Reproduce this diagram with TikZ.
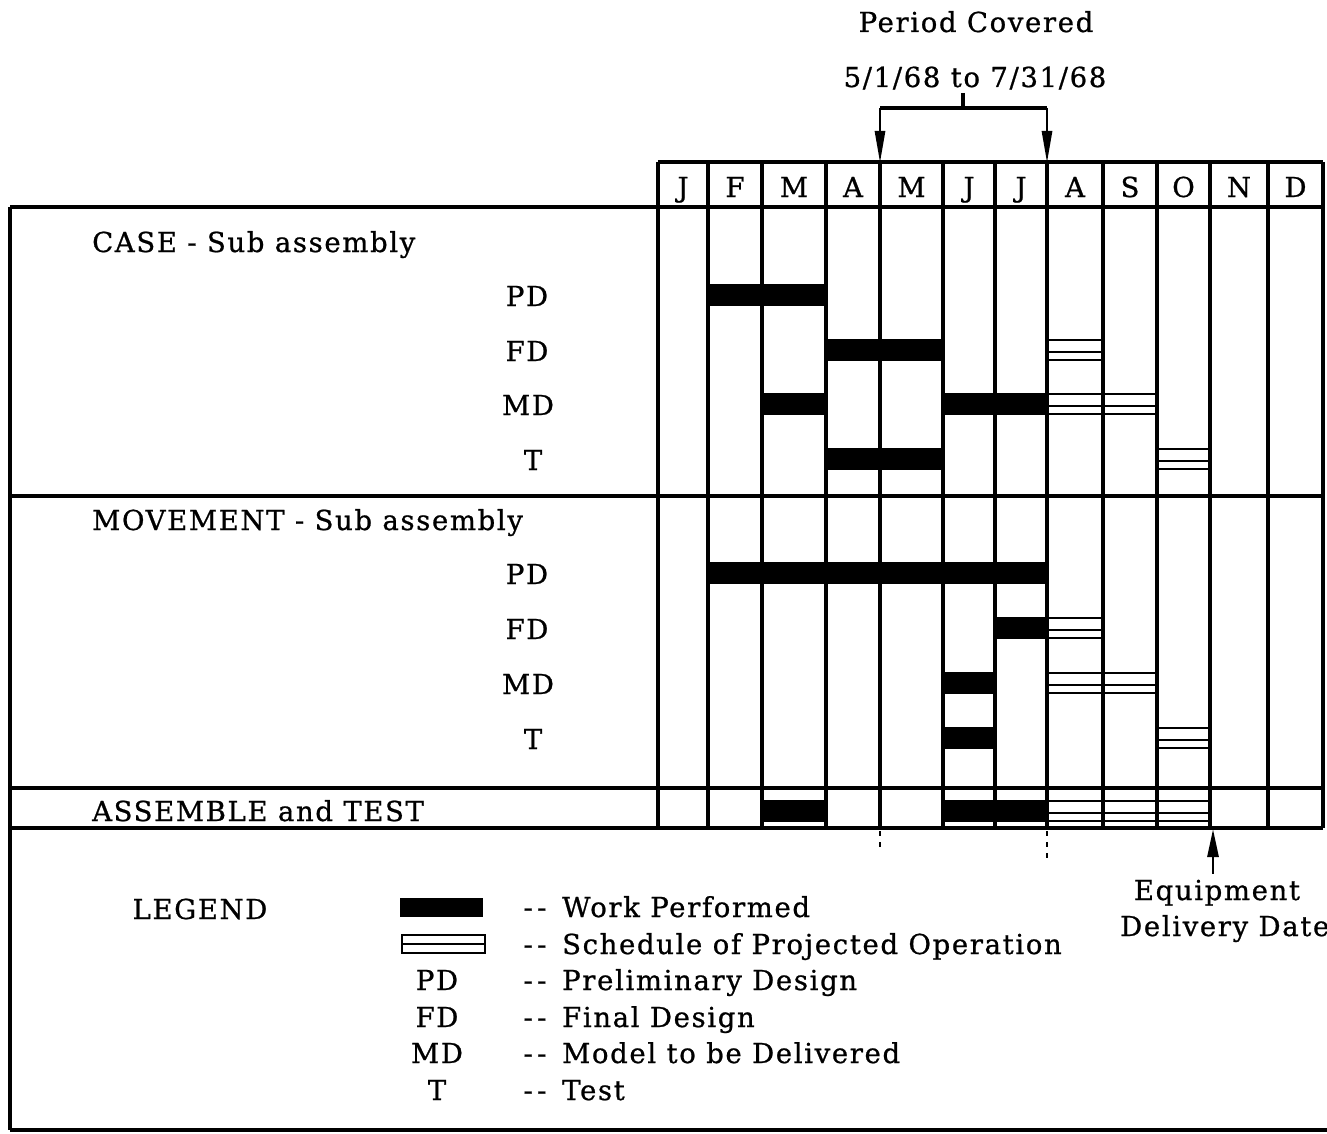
\documentclass[tikz,border=0pt]{standalone}
\usepackage{fontspec}
\setmainfont{DejaVu Serif}[LetterSpace=6,FakeBold=0.8]
\usetikzlibrary{arrows.meta}
\begin{document}
\begin{tikzpicture}[x=1pt,y=-1pt,
  gridline/.style={line width=3.1pt},
  txt/.style={font=\fontsize{27.5}{32}\selectfont, inner sep=0pt},
  workbar/.style={fill=black, draw=none},
  projline/.style={line width=2.6pt},
  periodarrow/.style={line width=2.8pt, -{Triangle[length=32pt,width=10pt]}},
  delivarrow/.style={line width=2.8pt, -{Triangle[length=28pt,width=11pt]}}]
\useasboundingbox (0,0) rectangle (1327,1134);
\fill[white] (0,0) rectangle (1327,1134);

% ---- grid ----
\draw[gridline] (658,162) -- (1323,162);
\draw[gridline] (10,207) -- (1323,207);
\draw[gridline] (10,496) -- (1323,496);
\draw[gridline] (10,788) -- (1323,788);
\draw[gridline] (10,828) -- (1323,828);
\draw[gridline] (10,1130) -- (1327,1130);
\draw[gridline] (10,207) -- (10,1130);
\foreach \x in {658,708,762,826,880,943,995,1047,1103,1157,1210,1268,1323}
  \draw[gridline] (\x,162) -- (\x,828);

% ---- month headers ----
\foreach \a/\b/\m/\n in {658/708/J/mJan,708/762/F/mFeb,762/826/M/mMar,826/880/A/mApr,
  880/943/M/mMay,943/995/J/mJun,995/1047/J/mJul,1047/1103/A/mAug,1103/1157/S/mSep,
  1157/1210/O/mOct,1210/1268/N/mNov,1268/1323/D/mDec}
  \node[txt, anchor=base] (\n) at ({(\a+\b)/2},197) {\m};

% ---- period covered ----
\node[txt, anchor=base] (pc) at (976,32) {Period Covered};
\node[txt, anchor=base] (pd) at (975,87) {5/1/68 to 7/31/68};
\coordinate (brTop) at (963,93);
\coordinate (brMid) at (963,108);
\coordinate (brL) at (880,108);
\coordinate (brR) at (1047,108);
\coordinate (hdL) at (880,163);
\coordinate (hdR) at (1047,163);
\draw[gridline] (brTop) -- (brMid);
\draw[gridline] (brL) -- (brR);
\draw[periodarrow] (brL) -- (hdL);
\draw[periodarrow] (brR) -- (hdR);

% ---- row labels ----
\node[txt, anchor=base west] (case) at (92,252) {CASE - Sub assembly};
\node[txt, anchor=base] (cPD) at (527,306) {PD};
\node[txt, anchor=base] (cFD) at (527,361) {FD};
\node[txt, anchor=base] (cMD) at (528,415) {MD};
\node[txt, anchor=base] (cT) at (533,470) {T};
\node[txt, anchor=base west] (mov) at (92,530) {MOVEMENT - Sub assembly};
\node[txt, anchor=base] (mPD) at (527,584) {PD};
\node[txt, anchor=base] (mFD) at (527,639) {FD};
\node[txt, anchor=base] (mMD) at (528,694) {MD};
\node[txt, anchor=base] (mT) at (533,749) {T};
\node[txt, anchor=base west] (asm) at (92,821) {ASSEMBLE and TEST};

% ---- work performed bars ----
\newcommand{\wbar}[3]{\fill[black] (#1,{#3-22}) rectangle (#2,#3);}
\newcommand{\pbar}[3]{%
  \draw[projline] (#1,{#3-21}) -- (#2,{#3-21});
  \draw[projline] (#1,{#3-9}) -- (#2,{#3-9});
  \draw[projline] (#1,{#3-1}) -- (#2,{#3-1});}
% case
\wbar{708}{826}{306}
\wbar{826}{943}{361}
\wbar{762}{826}{415}
\wbar{943}{1047}{415}
\wbar{826}{943}{470}
\pbar{1047}{1103}{361}
\pbar{1047}{1157}{415}
\pbar{1157}{1210}{470}
% movement
\wbar{708}{1047}{584}
\wbar{995}{1047}{639}
\wbar{943}{995}{694}
\wbar{943}{995}{749}
\pbar{1047}{1103}{639}
\pbar{1047}{1157}{694}
\pbar{1157}{1210}{749}
% assemble
\wbar{762}{826}{822}
\wbar{943}{1047}{822}
\pbar{1047}{1210}{822}

% faint dashed extensions
\draw[line width=1.2pt, dash pattern=on 5pt off 6pt] (880,831) -- (880,848);
\draw[line width=1.2pt, dash pattern=on 5pt off 6pt] (1047,831) -- (1047,862);

% ---- delivery date ----
\node[txt, anchor=base] (eq) at (1217,900) {Equipment};
\node[txt, anchor=base west] (dd) at (1120,936) {Delivery Date};
\coordinate (ddTip) at (1213,829);
\draw[delivarrow] (eq.north -| ddTip) ++(0,-6) -- (ddTip);

% ---- legend ----
\node[txt, anchor=base] (leg) at (200,919) {LEGEND};
\fill[black] (400,898) rectangle (483,917);
\draw[projline] (402,935) rectangle (485,953);
\draw[projline] (402,944) -- (485,944);
\foreach \yy/\ab/\desc/\nm in {917//Work Performed/lA,954//Schedule of Projected Operation/lB,
  990/PD/Preliminary Design/lC,1027/FD/Final Design/lD,1063/MD/Model to be Delivered/lE,1100/T/Test/lF}{
  \node[txt, anchor=base] (\nm dash) at (535,\yy) {-\,-};
  \node[txt, anchor=base west] (\nm) at (562,\yy) {\desc};
  \node[txt, anchor=base] (\nm ab) at (437,\yy) {\ab};
}
\end{tikzpicture}
\end{document}
